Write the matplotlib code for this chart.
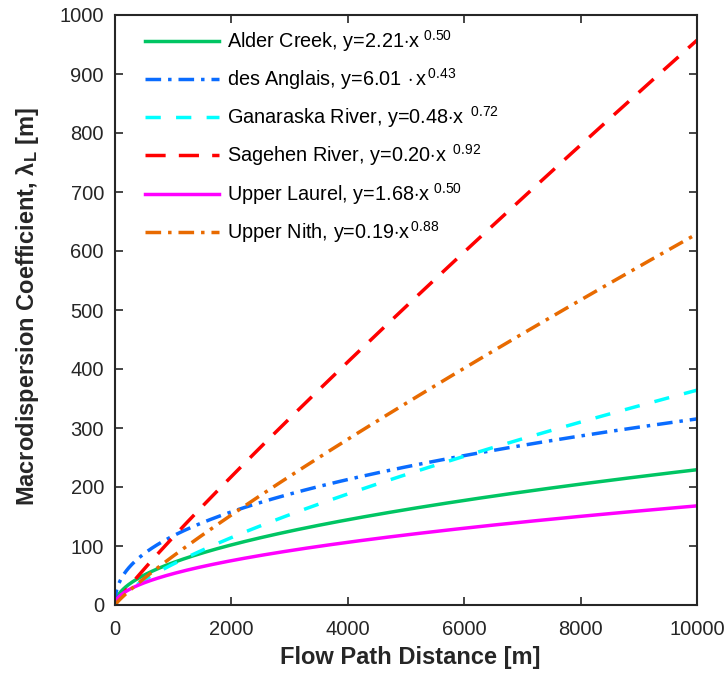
import numpy as np
import matplotlib
matplotlib.use("Agg")
import matplotlib.pyplot as plt

plt.rcParams['font.family'] = ['Liberation Sans', 'DejaVu Sans']
plt.rcParams['mathtext.fontset'] = 'custom'
plt.rcParams['mathtext.rm'] = 'Liberation Sans'
plt.rcParams['mathtext.it'] = 'Liberation Sans:italic'
plt.rcParams['mathtext.bf'] = 'Liberation Sans:bold'

# Data
sites = ["Alder Creek", "des Anglais", "Ganaraska River", "Sagehen River", "Upper Laurel", "Upper Nith"]
coef_labels = ["2.21", "6.01", "0.48", "0.20", "1.68", "0.19"]
exp_labels = ["0.50", "0.43", "0.72", "0.92", "0.50", "0.88"]
coefs = [2.21, 6.01, 0.48, 0.20, 1.68, 0.19]
exps = [0.504, 0.43, 0.72, 0.92, 0.50, 0.88]
colors = ["#00c563", "#0a6cff", "#00ffff", "#ff0000", "#ff00ff", "#e86a00"]
styles = ["-", (0, (4.5, 2.0, 1.0, 2.0)), (0, (4.4, 4.4)), (0, (5.8, 3.8)), "-", (0, (4.5, 2.0, 1.0, 2.0))]
# spacing tweaks in label rendering (before dot, before superscript)
pre_dot = ["", r"\,", "", "", "", ""]
pre_sup = [r"\,", "", r"\ ", r"\ ", r"\,", ""]

x_max = 10000
x = np.linspace(0, x_max, 2001)

fig = plt.figure(figsize=(7.28, 6.81), dpi=100)
ax = fig.add_axes([115/728, 76/681, (697-115)/728, (605-15)/681])

for i, (s, c, e, cl, el, col, ls) in enumerate(zip(sites, coefs, exps, coef_labels, exp_labels, colors, styles)):
    lab = f"{s}, y={cl}${pre_dot[i]}\\cdot$x${pre_sup[i]}^{{\\,{el}}}$"
    ax.plot(x, c * x**e, color=col, linestyle=ls, lw=2.5, label=lab)

ax.set_xlim(0, 10000)
ax.set_ylim(0, 1000)
ax.set_xticks(np.arange(0, 10001, 2000))
ax.set_yticks(np.arange(0, 1001, 100))
ax.tick_params(direction='in', length=6, width=1.2, top=True, right=True,
               labelsize=14.5, colors='#262626')
ax.tick_params(axis='x', pad=11)
ax.tick_params(axis='y', pad=8)
for sp in ax.spines.values():
    sp.set_linewidth(1.5)
    sp.set_color('#262626')

ax.set_xlabel("Flow Path Distance [m]", fontsize=17, fontweight='bold', color='#262626')
ax.set_ylabel(r"Macrodispersion Coefficient, $\mathbf{\lambda_L}$ [m]", fontsize=17,
              fontweight='bold', color='#262626')
ax.xaxis.set_label_coords(0.507, -0.070)
ax.yaxis.set_label_coords(-0.128, 0.505)

leg = ax.legend(loc='upper left', frameon=False, fontsize=14.3, handlelength=3.7,
                labelspacing=0.62, borderaxespad=0.25, handletextpad=0.4,
                bbox_to_anchor=(0.03, 1.0))

fig.savefig("out.png", dpi=100)
